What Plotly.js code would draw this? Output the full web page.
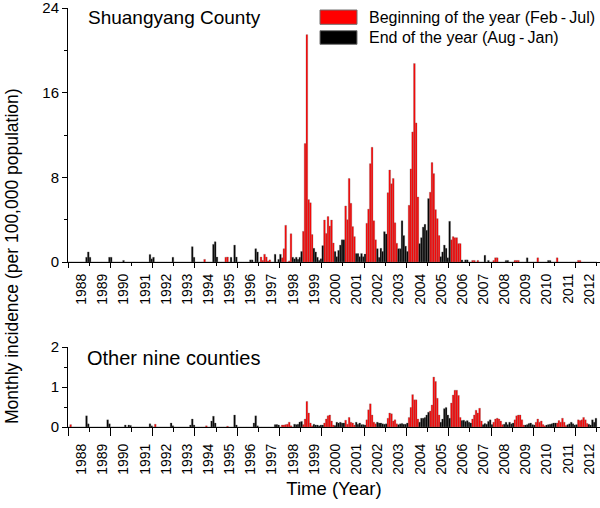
<!DOCTYPE html>
<html><head><meta charset="utf-8">
<script src="https://cdn.plot.ly/plotly-3.0.1.min.js"></script>
<style>html,body{margin:0;padding:0;background:#fff}#chart{width:600px;height:508px}</style>
</head><body><div id="chart"></div>
<script>
// ---- data -------------------------------------------------------------
const years = [1988,1989,1990,1991,1992,1993,1994,1995,1996,1997,1998,1999,2000,
               2001,2002,2003,2004,2005,2006,2007,2008,2009,2010,2011,2012];

// Shuangyang County, monthly incidence per 100,000 (Jan..Dec, one line per year)
const shuangyang = [
  0,0,0,0,0,0,0,0,0,0,0.45,0.95,            // 1988
  0.45,0,0,0,0,0,0,0,0,0,0,0.45,            // 1989
  0.45,0,0,0,0,0,0,0.15,0,0,0,0,            // 1990
  0,0,0,0,0,0,0,0,0,0,0.72,0.3,             // 1991
  0.45,0,0,0,0,0,0,0,0,0,0,0.45,            // 1992
  0,0,0,0,0,0,0,0,0,0,1.45,0.45,            // 1993
  0,0,0,0,0,0.25,0,0,0,0,1.67,1.92,         // 1994
  0.47,0,0,0,0,0.45,0.47,0,0.45,0,1.6,0.47, // 1995
  0,0,0,0,0,0,0,0.2,0.2,0,1.26,0.95,        // 1996
  0,0.47,0.15,0.73,0.47,0.1,0.2,0,0,0.73,0,0.25,        // 1997
  0.73,0.4,1.26,3.47,0,0.1,2.68,0.45,0.3,0.45,0.25,0.45, // 1998
  1.0,2.9,11.2,21.5,5.9,5.6,2.6,1.3,0.95,0.45,0.15,0.3,  // 1999
  1.55,3.97,2.7,4.3,3.4,3.97,1.8,1.0,0.5,1.1,1.6,2.1,    // 2000
  2.1,5.3,4.0,7.9,5.55,3.35,2.4,0.8,0.8,0.5,0.8,0.5,     // 2001
  0.75,3.66,5.0,9.3,10.85,3.9,2.1,1.26,0.44,1.3,1.0,2.87,// 2002
  2.65,6.56,8.7,7.4,7.9,3.7,1.77,1.26,1.26,3.9,2.5,1.5,  // 2003
  1.0,5.36,8.8,12.3,18.77,13.15,6.15,1.74,2.3,3.3,3.56,3.0, // 2004
  6.0,6.6,9.4,8.36,4.95,4.1,2.5,0.5,0.95,1.6,1.3,0.4,    // 2005
  3.85,2.1,2.4,2.3,2.3,1.74,1.74,0.2,0,0.2,0.2,0,        // 2006
  0,0.15,0.15,0,0.15,0,0,0,0.63,0,0.15,0,   // 2007
  0,0.15,0.4,0.4,0,0,0,0,0.15,0.15,0,0,     // 2008
  0,0.15,0.15,0.15,0,0,0,0,0.4,0,0,0,       // 2009
  0,0,0.4,0,0,0,0,0,0.15,0.15,0,0,          // 2010
  0,0.4,0,0,0,0,0,0,0,0,0,0,                // 2011
  0,0.15,0.15,0,0,0,0,0,0,0,0,0             // 2012
];

// Other nine counties, monthly incidence per 100,000
const otherNine = [
  0,0.06,0,0,0,0,0,0,0,0,0.28,0.08,         // 1988
  0,0,0,0,0,0,0,0,0,0,0.18,0.08,            // 1989
  0,0,0,0,0,0,0,0,0.05,0,0.05,0.04,         // 1990
  0,0,0,0,0,0,0,0,0,0,0.08,0.03,            // 1991
  0,0.07,0,0,0,0,0,0,0,0,0.1,0.03,          // 1992
  0,0,0,0,0,0,0,0,0,0.05,0.2,0.05,          // 1993
  0,0,0,0,0,0,0.03,0,0,0.15,0.27,0.1,       // 1994
  0,0,0,0,0,0,0.02,0,0,0,0.3,0.05,          // 1995
  0,0,0,0,0,0,0,0,0,0.1,0.28,0.03,          // 1996
  0,0,0,0,0,0,0,0,0,0.06,0.06,0.05,         // 1997
  0,0.05,0.05,0.06,0.07,0.12,0.03,0,0.07,0.06,0.07,0.125, // 1998
  0.14,0.06,0.2,0.64,0.35,0.1,0.03,0.07,0.05,0.05,0.03,0.05, // 1999
  0.05,0.1,0.2,0.28,0.3,0.15,0.05,0.04,0.12,0.1,0.12,0.1,  // 2000
  0.1,0.17,0.07,0.24,0.12,0.1,0.05,0.12,0.07,0.1,0.06,0.06, // 2001
  0.05,0.18,0.43,0.58,0.3,0.12,0.08,0.12,0.1,0.1,0.08,0.07, // 2002
  0.08,0.22,0.35,0.33,0.15,0.18,0.08,0.06,0.08,0.09,0.07,0.07, // 2003
  0.1,0.24,0.49,0.81,0.68,0.68,0.2,0.12,0.22,0.22,0.24,0.3,  // 2004
  0.37,0.4,0.55,1.25,1.14,0.72,0.3,0.12,0.2,0.46,0.49,0.3,   // 2005
  0.22,0.6,0.8,0.92,0.92,0.79,0.24,0.16,0.17,0.14,0.16,0.12, // 2006
  0.1,0.2,0.3,0.42,0.35,0.47,0.15,0.06,0.09,0.07,0.14,0.18,  // 2007
  0.06,0.12,0.2,0.22,0.2,0.15,0.06,0.07,0.12,0.06,0.12,0.08, // 2008
  0.1,0.18,0.28,0.3,0.3,0.18,0.05,0.05,0.06,0.09,0.1,0.06,   // 2009
  0.05,0.12,0.2,0.12,0.15,0.06,0.03,0.05,0.06,0.07,0.08,0.1, // 2010
  0.1,0.1,0.16,0.12,0.22,0.12,0.04,0.06,0.08,0.12,0.08,0.05, // 2011
  0.06,0.18,0.16,0.18,0.24,0.18,0.09,0.07,0.05,0.18,0.12,0.22 // 2012
];

const seasonNames = ['Beginning of the year (Feb\u2009-\u2009Jul)', 'End of the year (Aug\u2009-\u2009Jan)'];
const panelNames = ['Shuangyang County', 'Other nine counties'];
const yTitle = 'Monthly incidence (per 100,000 population)';
const xTitle = 'Time (Year)';

// ---- build ------------------------------------------------------------
const RED = '#ff0000', BLACK = '#000000', EDGE = '#707070';
const FONT = 'Liberation Sans, Arial, Helvetica, sans-serif';

function seasonSplit(vals){
  const r = {x:[], y:[]}, b = {x:[], y:[]};
  vals.forEach((v, i) => {
    const m = i % 12;
    const t = (m >= 1 && m <= 6) ? r : b;
    t.x.push(i + 0.5); t.y.push(v);
  });
  return [r, b];
}

function barTraces(vals, xa, ya){
  const [r, b] = seasonSplit(vals);
  return [
    {type:'bar', x:r.x, y:r.y, width:1, xaxis:xa, yaxis:ya, name:seasonNames[0],
     marker:{color:RED, line:{color:EDGE, width:0.3}}, showlegend:false, hoverinfo:'skip'},
    {type:'bar', x:b.x, y:b.y, width:1, xaxis:xa, yaxis:ya, name:seasonNames[1],
     marker:{color:BLACK, line:{color:EDGE, width:0.3}}, showlegend:false, hoverinfo:'skip'}
  ];
}

const yearStarts = years.map((y, k) => k * 12);
const evenStarts = yearStarts.filter((v, k) => k % 2 === 0);
const oddStarts  = yearStarts.filter((v, k) => k % 2 === 1);
const LABEL_OFFSET = 7.7;                     // labels sit a little past mid-year
const labelPos = yearStarts.map(v => v + LABEL_OFFSET);
const XR = [0, 301.8];

const L = 68, T = 8, PW = 532, PH = 419;
const px = v => (v - L) / PW;
const py = v => (T + PH - v) / PH;

const traces = [
  ...barTraces(shuangyang, 'x', 'y'),
  ...barTraces(otherNine, 'x2', 'y2'),
  {type:'scatter', x:[], y:[], xaxis:'x3', yaxis:'y', showlegend:false, hoverinfo:'skip'},
  {type:'scatter', x:[], y:[], xaxis:'x4', yaxis:'y2', showlegend:false, hoverinfo:'skip'}
];

// axis that carries the year labels (no tick marks)
function labelX(anchor, standoff){
  return {anchor:anchor, domain:[0,1], range:XR, tickmode:'array', tickvals:labelPos,
    ticktext:years.map(String), ticks:'', tickangle:-90, ticklabelstandoff:standoff,
    tickfont:{family:FONT, size:14, color:'#000'},
    showline:true, linecolor:'#000', linewidth:1, showgrid:false, zeroline:false, fixedrange:true};
}
// overlay axis that carries the tick marks (long at even years, short at odd years)
function markX(over, anchor, longLen, shortLen){
  return {overlaying:over, anchor:anchor, range:XR, tickmode:'linear', tick0:0, dtick:24,
    ticks:'outside', ticklen:longLen, tickwidth:1, tickcolor:'#000', showticklabels:false,
    minor:{tickmode:'linear', tick0:0, dtick:12, ticks:'outside', ticklen:shortLen, tickwidth:1, tickcolor:'#000'},
    showline:false, showgrid:false, zeroline:false, fixedrange:true};
}
function yAx(dom, rng, dtick, minorDtick){
  return {domain:dom, range:rng, tickmode:'linear', tick0:0, dtick:dtick, ticks:'outside', ticklen:5,
    tickwidth:1, tickcolor:'#000', tickfont:{family:FONT, size:15, color:'#000'},
    ticklabeloverflow:'allow',
    minor:{tickmode:'linear', tick0:0, dtick:minorDtick, ticks:'outside', ticklen:3, tickwidth:1, tickcolor:'#000'},
    showline:true, linecolor:'#000', linewidth:1, showgrid:false, zeroline:false, fixedrange:true};
}

const xa2 = labelX('y2', 10);
xa2.title = {text:xTitle, font:{family:FONT, size:18.5, color:'#000'}, standoff:8};

const layout = {
  width:600, height:508, margin:{l:L, r:0, t:T, b:508 - T - PH},
  paper_bgcolor:'#fff', plot_bgcolor:'#fff', barmode:'overlay', bargap:0,
  showlegend:false, font:{family:FONT, color:'#000'},
  xaxis: labelX('y', 5),
  xaxis2: xa2,
  xaxis3: markX('x', 'y', 5, 3),
  xaxis4: markX('x2', 'y2', 8, 4),
  yaxis: yAx([py(262), 1], [0, 24.02], 8, 4),
  yaxis2: yAx([0, py(347)], [0, 2.002], 1, 0.5),
  shapes: [
    {type:'rect', xref:'paper', yref:'paper', x0:px(320), x1:px(357), y0:py(24.3), y1:py(10),
     fillcolor:RED, line:{color:EDGE, width:1}},
    {type:'rect', xref:'paper', yref:'paper', x0:px(320), x1:px(357), y0:py(44.3), y1:py(30.7),
     fillcolor:BLACK, line:{color:EDGE, width:1}}
  ],
  annotations: [
    {xref:'paper', yref:'paper', x:px(367), y:py(17), xanchor:'left', yanchor:'middle',
     text:seasonNames[0], showarrow:false, font:{family:FONT, size:16, color:'#000'}},
    {xref:'paper', yref:'paper', x:px(367), y:py(37.5), xanchor:'left', yanchor:'middle',
     text:seasonNames[1], showarrow:false, font:{family:FONT, size:16, color:'#000'}},
    {xref:'paper', yref:'paper', x:px(86), y:py(17.5), xanchor:'left', yanchor:'middle',
     text:panelNames[0], showarrow:false, font:{family:FONT, size:19, color:'#000'}},
    {xref:'paper', yref:'paper', x:px(85), y:py(358), xanchor:'left', yanchor:'middle',
     text:panelNames[1], showarrow:false, font:{family:FONT, size:20, color:'#000'}},
    {xref:'paper', yref:'paper', x:px(12), y:py(256), xanchor:'center', yanchor:'middle',
     textangle:-90, text:yTitle, showarrow:false, font:{family:FONT, size:17.5, color:'#000'}}
  ]
};

Plotly.newPlot('chart', traces, layout, {staticPlot:true, displayModeBar:false});
</script></body></html>
